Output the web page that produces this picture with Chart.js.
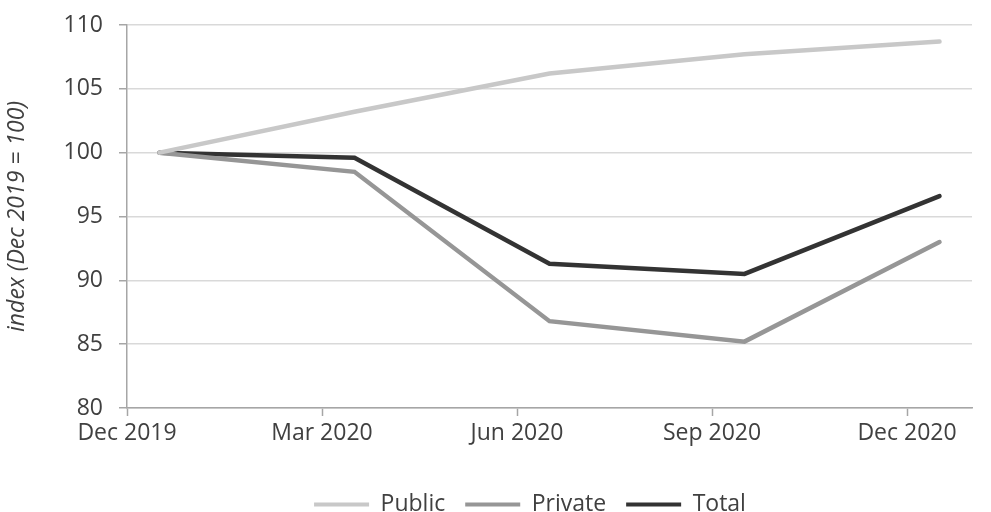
<!DOCTYPE html>
<html>
<head>
<meta charset="utf-8">
<script src="https://cdn.jsdelivr.net/npm/chart.js@4.4.1/dist/chart.umd.min.js"></script>
<style>
  html, body { margin: 0; padding: 0; background: #fff; }
  #wrap { width: 991px; height: 512px; }
</style>
</head>
<body>
<div id="wrap"><canvas id="chart" width="991" height="512"></canvas></div>
<script>
// Quarter-end months, index (Dec 2019 = 100)
const periods = ['Dec 2019', 'Mar 2020', 'Jun 2020', 'Sep 2020', 'Dec 2020'];
const publicIdx  = [100, 103.2, 106.2, 107.7, 108.7];
const privateIdx = [100, 98.5, 86.8, 85.2, 93.0];
const totalIdx   = [100, 99.6, 91.3, 90.5, 96.6];
const yTicks = [80, 85, 90, 95, 100, 105, 110];

// months since Dec 2019; observations sit mid-month
const monthOf = i => i * 3;
const toPoints = arr => arr.map((v, i) => ({ x: monthOf(i) + 0.5, y: v }));

const textColor = '#404040';
const axisColor = '#a6a6a6';
const font = { family: '"Open Sans", sans-serif', size: 23 };

function series(label, data, color) {
    return {
        label: label,
        data: toPoints(data),
        borderColor: color,
        backgroundColor: color,
        borderWidth: 4.5,
        pointRadius: 0,
        tension: 0,
        borderCapStyle: 'round',
        borderJoinStyle: 'miter'
    };
}

// nudge the legend row to the right, under the plot
const legendShift = {
    id: 'legendShift',
    afterLayout(chart) {
        chart.legend.left += 42;
        chart.legend.right += 42;
    }
};

new Chart(document.getElementById('chart'), {
    type: 'line',
    data: {
        datasets: [
            series('Public', publicIdx, '#c8c8c8'),
            series('Private', privateIdx, '#969696'),
            series('Total', totalIdx, '#333333')
        ]
    },
    plugins: [legendShift],
    options: {
        responsive: false,
        animation: false,
        layout: { padding: { top: 25, right: 19, left: 4, bottom: -14 } },
        plugins: {
            tooltip: { enabled: false },
            legend: {
                position: 'bottom',
                labels: {
                    color: textColor,
                    font: font,
                    boxWidth: 55,
                    boxHeight: 4,
                    padding: 20,
                    generateLabels: chart => chart.data.datasets.map((ds, i) => ({
                        text: ds.label,
                        fillStyle: ds.borderColor,
                        strokeStyle: ds.borderColor,
                        lineWidth: 0,
                        fontColor: textColor,
                        datasetIndex: i
                    }))
                }
            }
        },
        scales: {
            x: {
                type: 'linear',
                min: 0,
                max: 13,
                afterBuildTicks: scale => {
                    scale.ticks = periods.map((p, i) => ({ value: monthOf(i) }));
                },
                ticks: {
                    color: textColor,
                    font: font,
                    maxRotation: 0,
                    padding: 4,
                    callback: value => periods[value / 3]
                },
                grid: {
                    drawOnChartArea: false,
                    drawTicks: true,
                    tickLength: 8,
                    tickColor: axisColor,
                    tickWidth: 1.5
                },
                border: { display: true, color: axisColor, width: 1.5 },
                afterFit: scale => { scale.height = 65; }
            },
            y: {
                min: 80,
                max: 110,
                afterBuildTicks: scale => {
                    scale.ticks = yTicks.map(v => ({ value: v }));
                },
                ticks: { color: textColor, font: font, padding: 16 },
                grid: {
                    color: '#d9d9d9',
                    lineWidth: 1.5,
                    drawTicks: true,
                    tickLength: 8,
                    tickColor: axisColor,
                    tickWidth: 1.5
                },
                border: { display: true, color: axisColor, width: 1.5 },
                title: {
                    display: true,
                    text: 'index (Dec 2019 = 100)',
                    color: textColor,
                    font: { family: '"Open Sans", sans-serif', size: 23, style: 'italic' },
                    padding: { top: 0, bottom: 8 }
                },
                afterFit: scale => {
                    scale.width = 123;
                    scale.paddingTop = 0;
                    scale.paddingBottom = 0;
                }
            }
        }
    }
});
</script>
</body>
</html>
